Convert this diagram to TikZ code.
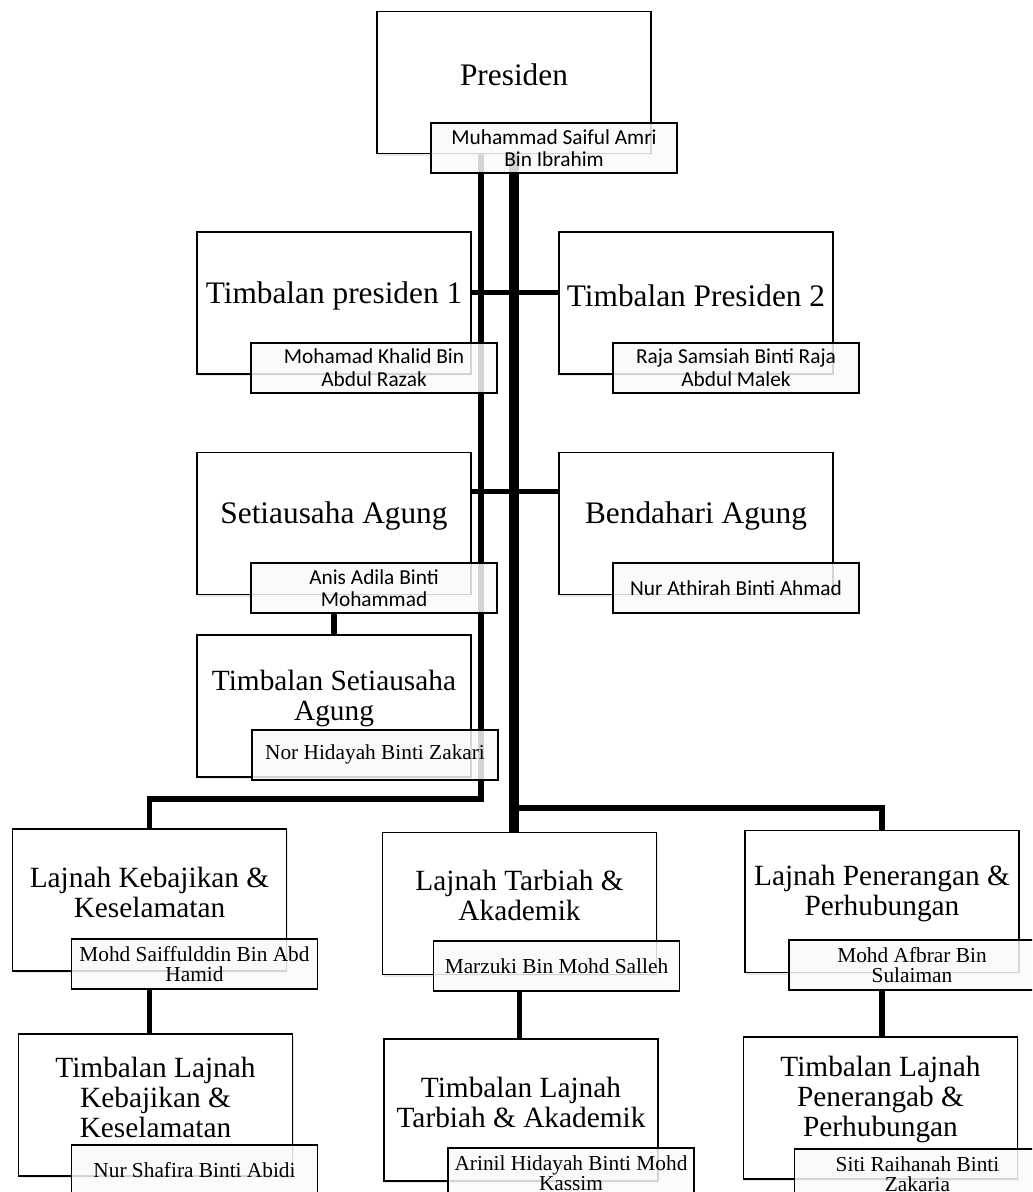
\documentclass[tikz,border=0pt]{standalone}
\usepackage{fontspec}
\setmainfont{Liberation Serif}
\newfontfamily\namefont{Carlito}
\usetikzlibrary{positioning,calc,shadows}
\pgfdeclarelayer{background}
\pgfsetlayers{background,main}

\begin{document}
\begin{tikzpicture}[%
    x=0.75pt, y=-0.75pt,        % one unit per pixel, y going down
    line join=miter,
    ]
% -------------------------------------------------
% Box styles
\tikzset{
  post/.style={draw, line width=1.3pt, fill=white, minimum width=205.5pt,
    minimum height=106.5pt,
    drop shadow={opacity=0.18, shadow xshift=1pt, shadow yshift=-1.5pt}},
  ttl/.style={align=center, inner sep=0pt,
    font=\fontsize{23.5}{22.5}\selectfont},
  sub/.style={ttl, font=\fontsize{22}{22.5}\selectfont},
  who/.style={draw, line width=1.3pt, fill=gray!4, fill opacity=0.85,
    text opacity=1, anchor=north west, align=center, inner sep=0pt,
    minimum width=184.5pt, minimum height=37.5pt},
  cal/.style={who, font=\namefont\fontsize{16}{17}\selectfont},
  rom/.style={who, font=\fontsize{16}{15}\selectfont},
  % Connector line styles
  link/.style={line width=3.8pt},
  trunk/.style={line width=6.8pt},
}
\useasboundingbox (0,0) rectangle (1032,1192);
\clip (0,0) rectangle (1032,1192);
% -------------------------------------------------
% Position boxes
\node [post] (pres) at (514,82.5) {};
\node [post] (tp1)  at (334,303) {};
\node [post] (tp2)  at (696,303) {};
\node [post] (sua)  at (334,523.5) {};
\node [post] (ben)  at (696,523.5) {};
\node [post] (tsua) at (334,706) {};
\node [post] (lkk)  at (149.5,900) {};
\node [post] (tlkk) at (155.5,1105) {};
\node [post] (lta)  at (519.5,903.5) {};
\node [post] (tlta) at (521,1110) {};
\node [post] (lpp)  at (882,901.5) {};
\node [post] (tlpp) at (880.5,1108) {};

% Titles
\node [ttl] (pres-t) at ($(pres)+(0,-8)$) {Presiden};
\node [ttl] (tp1-t)  at ($(tp1)+(0,-7)$)  {Timbalan presiden 1};
\node [ttl] (tp2-t)  at ($(tp2)+(0,-7)$)  {Timbalan Presiden 2};
\node [ttl] (sua-t)  at ($(sua)+(0,-7)$)  {Setiausaha Agung};
\node [ttl] (ben-t)  at ($(ben)+(0,-7)$)  {Bendahari Agung};
\node [sub] (tsua-t) at ($(tsua)+(0,-8)$) {Timbalan Setiausaha\\Agung};
\node [sub] (lkk-t)  at ($(lkk)+(0,-8)$)  {Lajnah Kebajikan \&\\Keselamatan};
\node [sub] (tlkk-t) at ($(tlkk)+(0,-8)$) {Timbalan Lajnah\\Kebajikan \&\\Keselamatan};
\node [sub] (lta-t)  at ($(lta)+(0,-8)$)  {Lajnah Tarbiah \&\\Akademik};
\node [sub] (tlta-t) at ($(tlta)+(0,-8)$) {Timbalan Lajnah\\Tarbiah \& Akademik};
\node [sub] (lpp-t)  at ($(lpp)+(0,-8)$)  {Lajnah Penerangan \&\\Perhubungan};
\node [sub] (tlpp-t) at ($(tlpp)+(0,-9)$) {Timbalan Lajnah\\Penerangab \&\\Perhubungan};

% Name boxes
\node [cal] (pres-n) at ($(pres.south west)+(54,-32)$) {Muhammad Saiful Amri\\Bin Ibrahim};
\node [cal] (tp1-n)  at ($(tp1.south west)+(54,-33)$)  {Mohamad Khalid Bin\\Abdul Razak};
\node [cal] (tp2-n)  at ($(tp2.south west)+(54,-33)$)  {Raja Samsiah Binti Raja\\Abdul Malek};
\node [cal] (sua-n)  at ($(sua.south west)+(54,-33)$)  {Anis Adila Binti\\Mohammad};
\node [cal] (ben-n)  at ($(ben.south west)+(54,-33)$)  {Nur Athirah Binti Ahmad};
\node [rom] (tsua-n) at ($(tsua.south west)+(55,-49)$) {Nor Hidayah Binti Zakari};
\node [rom] (lkk-n)  at ($(lkk.south west)+(59,-34)$)  {Mohd Saiffulddin Bin Abd\\Hamid};
\node [rom] (tlkk-n) at ($(tlkk.south west)+(53,-33)$) {Nur Shafira Binti Abidi};
\node [rom] (lta-n)  at ($(lta.south west)+(51,-35)$)  {Marzuki Bin Mohd Salleh};
\node [rom] (tlta-n) at ($(tlta.south west)+(64,-35)$) {Arinil Hidayah Binti Mohd\\Kassim};
\node [rom] (lpp-n)  at ($(lpp.south west)+(44,-34)$)  {Mohd Afbrar Bin\\Sulaiman};
\node [rom] (tlpp-n) at ($(tlpp.south west)+(51,-32)$) {Siti Raihanah Binti\\Zakaria};

% -------------------------------------------------
% Connectors, kept behind the boxes
\begin{pgfonlayer}{background}
\coordinate (busA) at (481,799);
\coordinate (busB) at (514,808);
\draw[link]  (pres.south -| busA) -- (busA) -| (lkk.north);
\draw[trunk] (pres.south -| busB) -- (busB |- lta.north);
\draw[link]  (busB) -| (lpp.north);
\draw[link]  ([yshift=8pt]tp1.east) -- ([yshift=8pt]tp2.west);
\draw[link]  ([yshift=24pt]sua.east) -- ([yshift=24pt]ben.west);
\draw[link]  (sua-n.south -| sua.south) -- (tsua.north);
\draw[link]  (lkk-n.south -| lkk.south) -- (tlkk.north -| lkk.south);
\draw[link]  (lta-n.south -| lta.south) -- (tlta.north -| lta.south);
\draw[link]  (lpp-n.south -| lpp.south) -- (tlpp.north -| lpp.south);
\end{pgfonlayer}
% -------------------------------------------------
\end{tikzpicture}
\end{document}
